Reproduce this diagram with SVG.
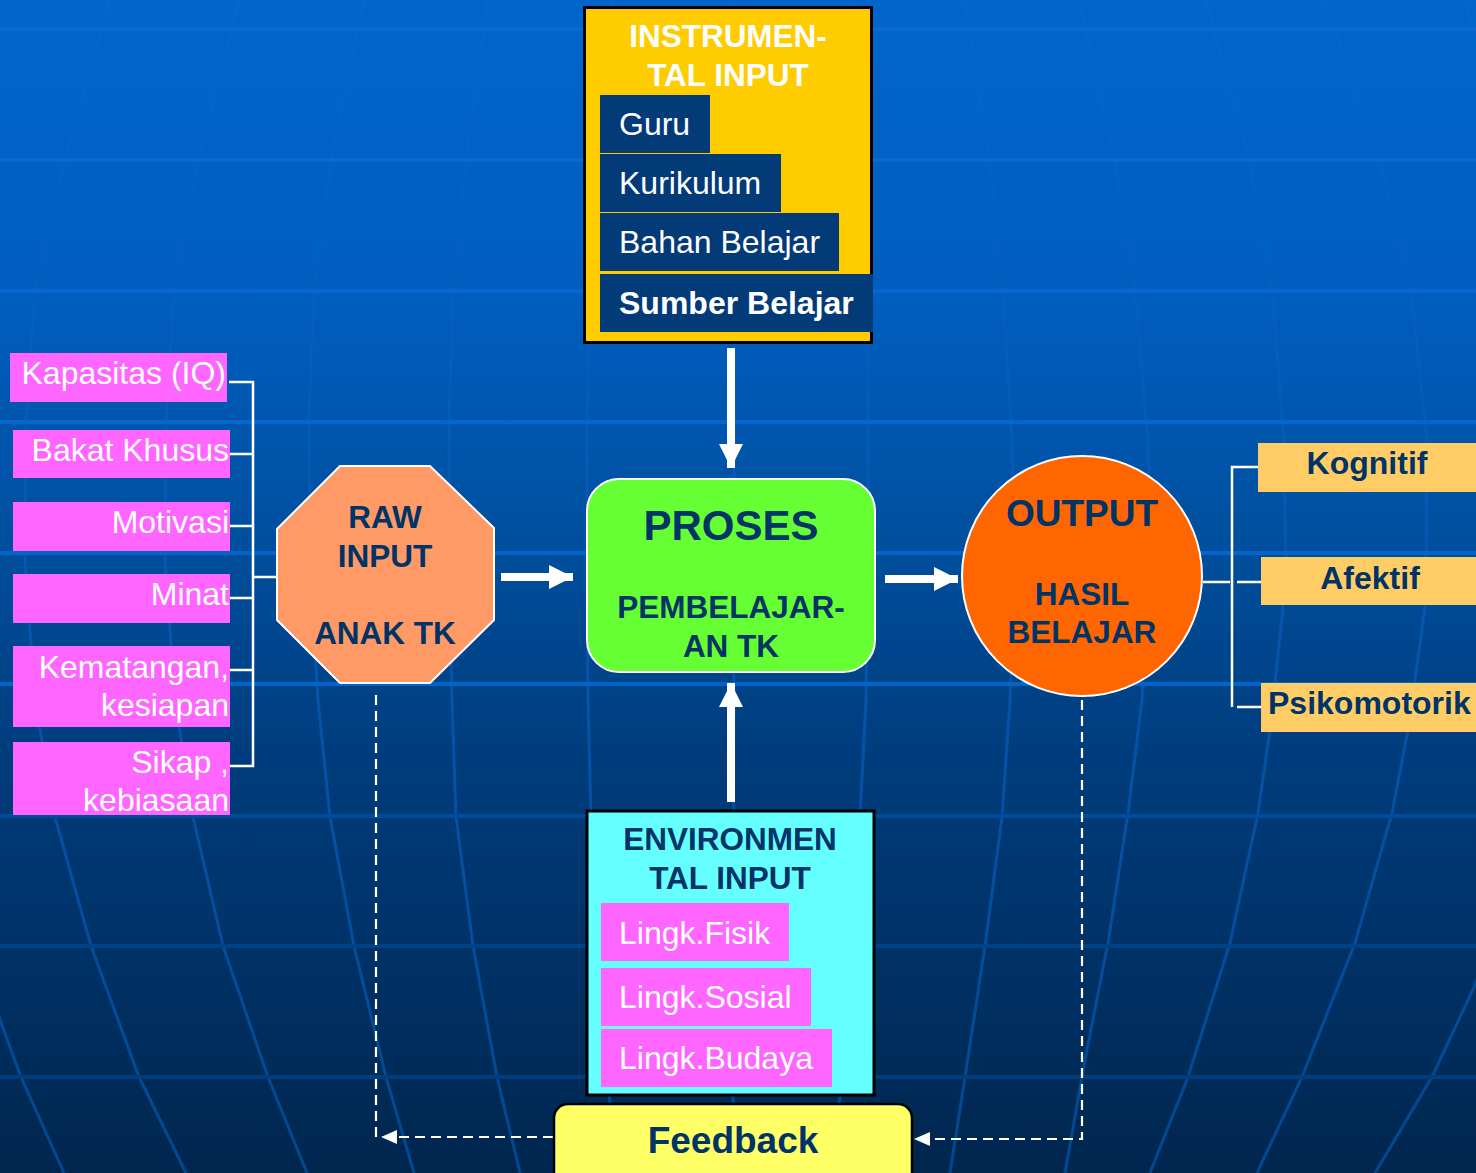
<svg xmlns="http://www.w3.org/2000/svg" width="1476" height="1173" viewBox="0 0 1476 1173">
<defs>
<linearGradient id="bg" x1="0" y1="0" x2="0" y2="1173" gradientUnits="userSpaceOnUse">
<stop offset="0" stop-color="#0066cc"/>
<stop offset="0.25" stop-color="#005ec0"/>
<stop offset="0.45" stop-color="#0050a0"/>
<stop offset="0.65" stop-color="#003c7c"/>
<stop offset="1" stop-color="#00264e"/>
</linearGradient>
<linearGradient id="hl" x1="0" y1="0" x2="0" y2="1173" gradientUnits="userSpaceOnUse">
<stop offset="0" stop-color="#0a6ad2"/>
<stop offset="0.6" stop-color="#0064c8"/>
<stop offset="0.7" stop-color="#004a98"/>
<stop offset="0.8" stop-color="#004288"/>
<stop offset="1" stop-color="#003a78"/>
</linearGradient>
<linearGradient id="ml" x1="0" y1="0" x2="0" y2="1173" gradientUnits="userSpaceOnUse">
<stop offset="0" stop-color="#0666cc"/>
<stop offset="0.5" stop-color="#0656b0"/>
<stop offset="1" stop-color="#004890"/>
</linearGradient>
<marker id="big" markerUnits="userSpaceOnUse" viewBox="0 0 24 24" markerWidth="24" markerHeight="24" refX="24" refY="12" orient="auto">
<path d="M0,0 L24,12 L0,24 z" fill="#fff"/>
</marker>
<marker id="small" markerUnits="userSpaceOnUse" viewBox="0 0 16 14" markerWidth="16" markerHeight="14" refX="16" refY="7" orient="auto">
<path d="M0,0 L16,7 L0,14 z" fill="#fff"/>
</marker>
<style>
text{font-family:"Liberation Sans",Arial,sans-serif}
.w{fill:#fff}
.nv{fill:#003366}
.b{font-weight:bold}
.m{text-anchor:middle}
.e{text-anchor:end}
.s31{font-size:31.5px}
.s32{font-size:32px}
.pink{fill:#ff66ff}
.dark{fill:#033a78}
.gold{fill:#ffcc66}
.mer{fill:none;stroke:url(#ml);stroke-width:3;stroke-linejoin:round}
.hor{stroke:url(#hl);stroke-width:4}
.br{fill:none;stroke:#fff;stroke-width:2.5}
.arr{stroke:#fff;stroke-width:8;fill:none}
.dash{fill:none;stroke:#fff;stroke-width:2.2;stroke-dasharray:10 6}
</style>
</defs>

<g id="background">
<rect x="0" y="0" width="1476" height="1173" fill="url(#bg)"/>
<g class="mer">
<path d="M-90,560 L-60,760 L-30,900 L0,1020 L21,1077 L64,1173"/>
<path d="M110,0 L65,160 L35,291 L26,420 L25,560 L35,700 L55,817 L91,946 L139,1077 L186,1173"/>
<path d="M239,0 L198,160 L174,291 L166,420 L165,560 L175,700 L193,817 L223,946 L268,1077 L307,1173"/>
<path d="M364,0 L331,160 L314,291 L309,420 L310,560 L318,700 L330,817 L354,946 L386,1077 L414,1173"/>
<path d="M488,0 L466,160 L453,291 L449,420 L449,560 L452,700 L456,817 L473,946 L497,1077 L520,1173"/>
<path d="M612,0 L598,160 L590,291 L587,420 L587,560 L588,700 L591,817 L600,946 L608,1077 L615,1173"/>
<path d="M735,0 L733,1173"/>
<path d="M855,0 L863,160 L867,291 L868,420 L868,560 L866,700 L860,817 L852,946 L842,1077 L832,1173"/>
<path d="M965,0 L990,160 L1003,291 L1012,440 L1014,560 L1010,700 L1002,817 L985,946 L965,1077 L950,1173"/>
<path d="M1079,0 L1115,160 L1135,291 L1148,440 L1150,560 L1142,700 L1128,813 L1108,943 L1085,1060 L1065,1173"/>
<path d="M1206,0 L1249,160 L1272,291 L1284,440 L1286,580 L1270,730 L1258,813 L1230,943 L1188,1077 L1150,1173"/>
<path d="M1324,0 L1380,160 L1411,291 L1427,440 L1426,600 L1408,730 L1392,813 L1355,943 L1302,1077 L1257,1173"/>
<path d="M1465,0 L1490,80"/>
<path d="M1500,900 L1476,983 L1432,1077 L1375,1173"/>
</g>
<g class="hor">
<line x1="0" y1="29" x2="1476" y2="29"/>
<line x1="0" y1="160" x2="1476" y2="160"/>
<line x1="0" y1="291" x2="1476" y2="291"/>
<line x1="0" y1="422" x2="1476" y2="422"/>
<line x1="0" y1="553" x2="1476" y2="553"/>
<line x1="0" y1="684" x2="1476" y2="684"/>
<line x1="0" y1="816" x2="1476" y2="816"/>
<line x1="0" y1="946" x2="1476" y2="946"/>
<line x1="0" y1="1077" x2="1476" y2="1077"/>
</g>
</g>

<g id="connectors">
<path class="br" d="M229,382 H253 V766 H230 M230,454 H253 M230,526 H253 M230,598 H253 M230,670 H253 M253,577 H277"/>
<path class="br" d="M1258,467 H1232 V707 M1237,707 H1262 M1203,582 H1230 M1237,582 H1261"/>
<line class="arr" x1="501" y1="577" x2="573" y2="577" marker-end="url(#big)"/>
<line class="arr" x1="885" y1="579" x2="958" y2="579" marker-end="url(#big)"/>
<line class="arr" x1="731" y1="348" x2="731" y2="468" marker-end="url(#big)"/>
<line class="arr" x1="731" y1="802" x2="731" y2="683" marker-end="url(#big)"/>
<path class="dash" d="M376,695 V1137"/>
<path class="dash" d="M553,1137 H381" marker-end="url(#small)"/>
<path class="dash" d="M1082,700 V1139 H914" marker-end="url(#small)"/>
</g>

<g id="instrumental-input">
<rect x="584.5" y="7.5" width="287" height="335" fill="#ffcc00" stroke="#000" stroke-width="3"/>
<text class="w b m s31" x="728" y="47">INSTRUMEN-</text>
<text class="w b m s31" x="728" y="86">TAL INPUT</text>
<rect class="dark" x="600" y="95" width="110" height="58"/>
<rect class="dark" x="600" y="154" width="181" height="58"/>
<rect class="dark" x="600" y="213" width="239" height="58"/>
<rect class="dark" x="600" y="274" width="273" height="58"/>
<text class="w s32" x="619" y="135">Guru</text>
<text class="w s32" x="619" y="194">Kurikulum</text>
<text class="w s32" x="619" y="253">Bahan Belajar</text>
<text class="w b s32" x="619" y="314">Sumber Belajar</text>
</g>

<g id="kapasitas">
<rect class="pink" x="10" y="353" width="217" height="49"/>
<text class="w e s32" x="226" y="384">Kapasitas (IQ)</text>
</g>
<g id="bakat">
<rect class="pink" x="13" y="430" width="217" height="48"/>
<text class="w e s32" x="229" y="461">Bakat Khusus</text>
</g>
<g id="motivasi">
<rect class="pink" x="13" y="502" width="217" height="49"/>
<text class="w e s32" x="229" y="533">Motivasi</text>
</g>
<g id="minat">
<rect class="pink" x="13" y="574" width="217" height="49"/>
<text class="w e s32" x="229" y="605">Minat</text>
</g>
<g id="kematangan">
<rect class="pink" x="13" y="646" width="217" height="81"/>
<text class="w e s32" x="229" y="678">Kematangan,</text>
<text class="w e s32" x="229" y="716">kesiapan</text>
</g>
<g id="sikap">
<rect class="pink" x="13" y="742" width="217" height="73"/>
<text class="w e s32" x="229" y="773">Sikap ,</text>
<text class="w e s32" x="229" y="811">kebiasaan</text>
</g>

<g id="raw-input">
<polygon points="340,466 430,466 494,528 494,620 430,683 340,683 277,620 277,529" fill="#ff9966" stroke="#fff" stroke-width="2"/>
<text class="nv b m s31" x="385" y="528">RAW</text>
<text class="nv b m s31" x="385" y="567">INPUT</text>
<text class="nv b m s31" x="385" y="644">ANAK TK</text>
</g>

<g id="proses">
<rect x="587" y="479" width="288" height="193" rx="32" fill="#66ff33" stroke="#fff" stroke-width="2"/>
<text class="nv b m" x="731" y="540" font-size="42">PROSES</text>
<text class="nv b m s31" x="731" y="618">PEMBELAJAR-</text>
<text class="nv b m s31" x="731" y="657">AN TK</text>
</g>

<g id="output">
<circle cx="1082" cy="576" r="120" fill="#ff6600" stroke="#fff" stroke-width="2"/>
<text class="nv b m" x="1082" y="526" font-size="37">OUTPUT</text>
<text class="nv b m s31" x="1082" y="605">HASIL</text>
<text class="nv b m s31" x="1082" y="643">BELAJAR</text>
</g>

<g id="kognitif">
<rect class="gold" x="1258" y="443" width="218" height="49"/>
<text class="nv b m s32" x="1367" y="474">Kognitif</text>
</g>
<g id="afektif">
<rect class="gold" x="1261" y="557" width="215" height="48"/>
<text class="nv b m s32" x="1370" y="589">Afektif</text>
</g>
<g id="psikomotorik">
<rect class="gold" x="1261" y="683" width="215" height="49"/>
<text class="nv b s32" x="1268" y="714">Psikomotorik</text>
</g>

<g id="environmental-input">
<rect x="587" y="811" width="287" height="284" fill="#66ffff" stroke="#000" stroke-width="3"/>
<text class="nv b m s31" x="730" y="850">ENVIRONMEN</text>
<text class="nv b m s31" x="730" y="889">TAL INPUT</text>
<rect class="pink" x="601" y="903" width="188" height="58"/>
<rect class="pink" x="601" y="968" width="210" height="58"/>
<rect class="pink" x="601" y="1029" width="231" height="58"/>
<text class="w s32" x="619" y="944">Lingk.Fisik</text>
<text class="w s32" x="619" y="1008">Lingk.Sosial</text>
<text class="w s32" x="619" y="1069">Lingk.Budaya</text>
</g>

<g id="feedback">
<rect x="554" y="1104" width="358" height="95" rx="14" fill="#ffff66" stroke="#000" stroke-width="2.5"/>
<text class="nv b m" x="733" y="1153" font-size="37">Feedback</text>
</g>
</svg>
